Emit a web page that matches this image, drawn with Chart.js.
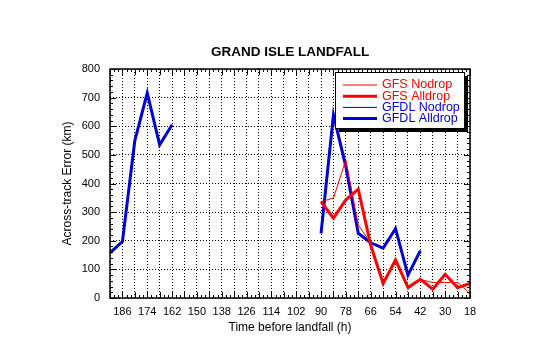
<!DOCTYPE html>
<html lang="en">
<head>
  <meta charset="UTF-8">
  <title>Grand Isle Landfall</title>
  <script src="https://cdn.jsdelivr.net/npm/chart.js"></script>
  <style>
    html, body { margin: 0; padding: 0; background: #fff; }
  </style>
</head>
<body>
<canvas id="errChart" width="540" height="344"></canvas>

<script>
  // Forecast hour (time before landfall), every 6 h
  const hours = [192, 186, 180, 174, 168, 162, 156, 150, 144, 138, 132, 126, 120, 114, 108,
                 102, 96, 90, 84, 78, 72, 66, 60, 54, 48, 42, 36, 30, 24, 18];

  // Across-track error (km), null = no forecast
  const gfsNodrop   = [null, null, null, null, null, null, null, null, null, null, null, null, null, null, null,
                       null, null, 337, 349, 483, 255, 192, 45, 133, 30, 65, 54, 54, 54, 16];
  const gfsAlldrop  = [null, null, null, null, null, null, null, null, null, null, null, null, null, null, null,
                       null, null, 337, 279, 343, 380, 185, 51, 133, 37, 65, 31, 83, 36, 51];
  const gfdlNodrop  = [158, 197, 550, 716, 535, 605, null, null, null, null, null, null, null, null, null,
                       null, null, 226, 640, 459, 226, 193, 174, 242, 80, 165, null, null, null, null];
  const gfdlAlldrop = [158, 197, 550, 716, 535, 605, null, null, null, null, null, null, null, null, null,
                       null, null, 226, 640, 459, 226, 193, 174, 242, 80, 165, null, null, null, null];

  const FONT = "'Liberation Sans', Arial, Helvetica, sans-serif";
  const RED = "#ff0000";
  const BLUE = "#0000d2";

  function pts(vals) {
    return hours.map((h, i) => ({ x: h, y: vals[i] }));
  }

  const series = [
    { label: "GFS Nodrop",   data: gfsNodrop,   color: RED,  width: 1 },
    { label: "GFS Alldrop",  data: gfsAlldrop,  color: RED,  width: 3 },
    { label: "GFDL Nodrop",  data: gfdlNodrop,  color: BLUE, width: 1 },
    { label: "GFDL Alldrop", data: gfdlAlldrop, color: BLUE, width: 3 }
  ];

  // frame, inside tick marks, title and the boxed legend
  const framePlugin = {
    id: "frame",
    afterDatasetsDraw(chart) {
      const { ctx, chartArea: a, scales } = chart;
      const xs = scales.x, ys = scales.y;
      ctx.save();
      ctx.strokeStyle = "#000";
      ctx.lineWidth = 1;
      ctx.beginPath();
      for (let h = 18; h <= 192; h += 2) {
        const px = Math.round(xs.getPixelForValue(h)) + 0.5;
        const len = (h % 6 === 0) ? 6 : 3;
        ctx.moveTo(px, a.bottom); ctx.lineTo(px, a.bottom - len);
        ctx.moveTo(px, a.top); ctx.lineTo(px, a.top + len);
      }
      for (let v = 0; v <= 800; v += 20) {
        const py = Math.round(ys.getPixelForValue(v)) + 0.5;
        const len = (v % 100 === 0) ? 6 : 3;
        ctx.moveTo(a.left, py); ctx.lineTo(a.left + len, py);
        ctx.moveTo(a.right, py); ctx.lineTo(a.right - len, py);
      }
      ctx.stroke();
      ctx.lineWidth = 1.5;
      ctx.strokeRect(a.left, a.top, a.right - a.left, a.bottom - a.top);

      ctx.fillStyle = "#000";
      ctx.font = "bold 13.5px " + FONT;
      ctx.textAlign = "center";
      ctx.textBaseline = "middle";
      ctx.fillText("GRAND ISLE LANDFALL", (a.left + a.right) / 2, 52);
      ctx.restore();
    },
    afterDraw(chart) {
      const { ctx, chartArea: a } = chart;
      const bx = a.left + 225, by = a.top + 3, bw = 129, bh = 56;
      ctx.save();
      ctx.fillStyle = "#000";
      ctx.fillRect(bx + 4, by + 4, bw, bh);
      ctx.fillStyle = "#fff";
      ctx.fillRect(bx, by, bw, bh);
      ctx.strokeStyle = "#000";
      ctx.lineWidth = 1;
      ctx.strokeRect(bx + 0.5, by + 0.5, bw, bh);
      ctx.font = "12.5px " + FONT;
      ctx.textAlign = "left";
      ctx.textBaseline = "middle";
      series.forEach((s, i) => {
        const y = by + 13 + i * 11.2;
        ctx.strokeStyle = s.color;
        ctx.lineWidth = s.width;
        ctx.beginPath();
        ctx.moveTo(bx + 8, y);
        ctx.lineTo(bx + 42, y);
        ctx.stroke();
        ctx.fillStyle = s.color;
        ctx.fillText(s.label, bx + 47, y);
      });
      ctx.restore();
    }
  };

  new Chart(document.getElementById("errChart"), {
    type: "line",
    data: {
      datasets: series.map(s => ({
        label: s.label,
        data: pts(s.data),
        borderColor: s.color,
        backgroundColor: s.color,
        borderWidth: s.width,
        pointRadius: 0,
        tension: 0,
        spanGaps: false
      }))
    },
    options: {
      responsive: false,
      animation: false,
      layout: { padding: { left: 55, right: 70, top: 69, bottom: 7 } },
      plugins: { legend: { display: false }, title: { display: false }, tooltip: { enabled: false } },
      scales: {
        x: {
          type: "linear",
          reverse: true,
          min: 18,
          max: 192,
          afterFit: s => { s.height = 39; },
          grid: { color: "#000", lineWidth: 1, drawTicks: false },
          border: { display: false, dash: [1, 2] },
          ticks: {
            stepSize: 6,
            autoSkip: false,
            maxRotation: 0,
            padding: 7,
            color: "#000",
            font: { family: FONT, size: 11 },
            callback: v => (v % 12 === 6 ? String(v) : "")
          },
          title: {
            display: true,
            text: "Time before landfall (h)",
            color: "#000",
            font: { family: FONT, size: 12 },
            padding: { top: 0, bottom: 2 }
          }
        },
        y: {
          min: 0,
          max: 800,
          afterFit: s => { s.width = 55; },
          grid: { color: "#000", lineWidth: 1, drawTicks: false },
          border: { display: false, dash: [1, 2] },
          ticks: {
            stepSize: 100,
            padding: 10,
            color: "#000",
            font: { family: FONT, size: 11 }
          },
          title: {
            display: true,
            text: "Across-track Error (km)",
            color: "#000",
            font: { family: FONT, size: 12 },
            padding: { top: 5, bottom: 0 }
          }
        }
      }
    },
    plugins: [framePlugin]
  });
</script>
</body>
</html>
